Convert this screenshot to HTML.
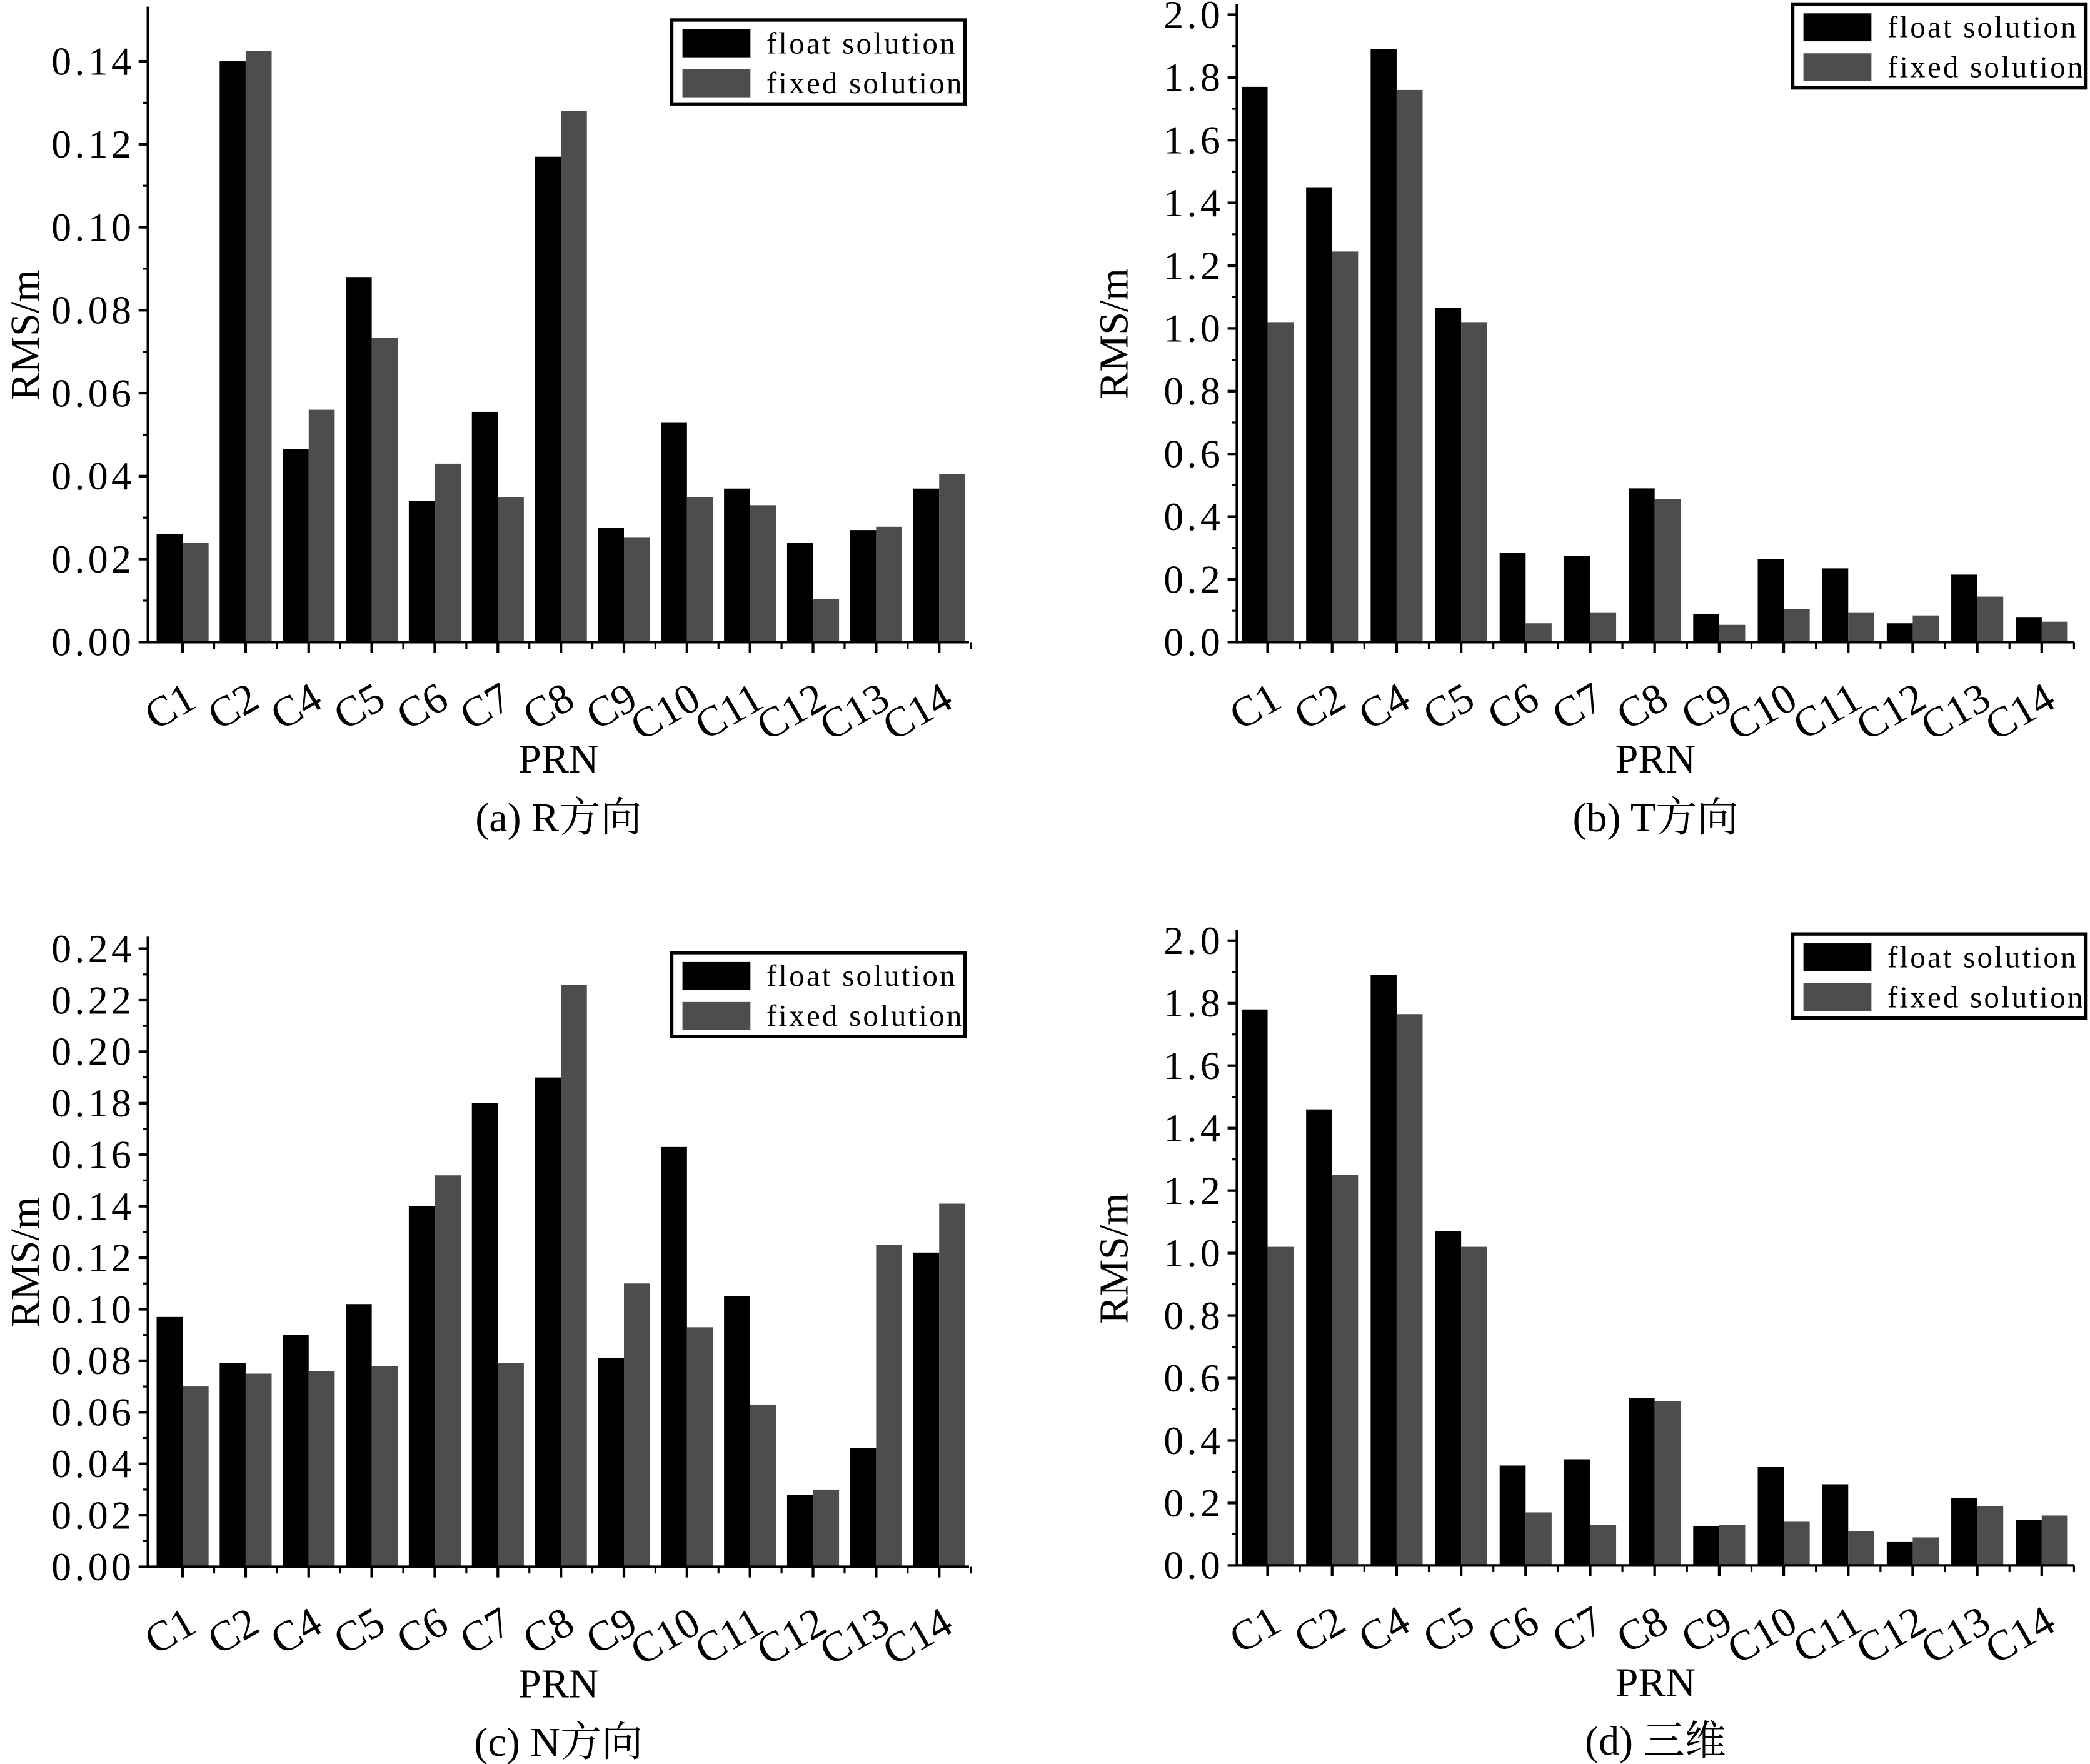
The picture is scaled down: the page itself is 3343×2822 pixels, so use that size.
<!DOCTYPE html>
<html><head><meta charset="utf-8"><style>
html,body{margin:0;padding:0;background:#fff;}
svg{display:block;font-family:"Liberation Serif","Noto Serif CJK SC",serif;}
</style></head><body>
<svg id="fig" width="3343" height="2822" viewBox="0 0 1568 1324" preserveAspectRatio="none" xmlns="http://www.w3.org/2000/svg"></svg>
<script>
const categories = ["C1","C2","C4","C5","C6","C7","C8","C9","C10","C11","C12","C13","C14"];
const floatR = [0.026,0.140,0.0465,0.088,0.034,0.0555,0.117,0.0275,0.053,0.037,0.024,0.027,0.037];
const fixedR = [0.024,0.1425,0.056,0.0733,0.043,0.035,0.128,0.0253,0.035,0.033,0.0103,0.0278,0.0405];
const floatT = [1.77,1.45,1.89,1.065,0.285,0.275,0.49,0.09,0.265,0.235,0.06,0.215,0.08];
const fixedT = [1.02,1.245,1.76,1.02,0.06,0.095,0.455,0.055,0.105,0.095,0.085,0.145,0.065];
const floatN = [0.097,0.079,0.090,0.102,0.140,0.180,0.190,0.081,0.163,0.105,0.028,0.046,0.122];
const fixedN = [0.070,0.075,0.076,0.078,0.152,0.079,0.226,0.110,0.093,0.063,0.030,0.125,0.141];
const float3D = [1.78,1.46,1.89,1.07,0.32,0.34,0.535,0.125,0.315,0.26,0.075,0.215,0.145];
const fixed3D = [1.02,1.25,1.765,1.02,0.17,0.13,0.525,0.13,0.14,0.11,0.09,0.19,0.16];
const ticksR = ["0.00","0.02","0.04","0.06","0.08","0.10","0.12","0.14"];
const ticksT = ["0.0","0.2","0.4","0.6","0.8","1.0","1.2","1.4","1.6","1.8","2.0"];
const ticksN = ["0.00","0.02","0.04","0.06","0.08","0.10","0.12","0.14","0.16","0.18","0.20","0.22","0.24"];
const ticks3D = ["0.0","0.2","0.4","0.6","0.8","1.0","1.2","1.4","1.6","1.8","2.0"];

const NS="http://www.w3.org/2000/svg";
const svg=document.getElementById('fig');
function mk(tag,attrs,parent){const e=document.createElementNS(NS,tag);for(const k in attrs)e.setAttribute(k,attrs[k]);(parent||svg).appendChild(e);return e;}

function panel(id,cfg,fl,fx,ticks){
  const g=mk('g',{});
  
  
  const {x0,x1,y0,yTop,axisTop,tickStep,step,c0,legX,legY,caption}=cfg;
  const vmax=parseFloat(ticks[ticks.length-1]);
  const yv=v=>y0-(v/vmax)*(y0-yTop);
  const xc=i=>c0+i*step;
  const bw=19.5;
  categories.forEach((c,i)=>{
    const a=mk('rect',{x:xc(i)-bw,y:yv(fl[i]),width:bw,height:y0-yv(fl[i]),fill:'#000'},g);
    
    
    const b=mk('rect',{x:xc(i),y:yv(fx[i]),width:bw,height:y0-yv(fx[i]),fill:'#4d4d4d'},g);
    
    
  });
  const ya=mk('line',{x1:x0,y1:axisTop,x2:x0,y2:y0+1,stroke:'#000','stroke-width':2},g);
  
  
  const xa=mk('line',{x1:x0-1,y1:y0,x2:x1,y2:y0,stroke:'#000','stroke-width':2},g);
  
  
  const fs=30;
  ticks.forEach((t,k)=>{
    const v=parseFloat(t);const y=yv(v);
    mk('line',{x1:x0-7,y1:y,x2:x0,y2:y,stroke:'#000','stroke-width':2},g);
    if(k<ticks.length-1){const ym=yv(v+tickStep/2);mk('line',{x1:x0-4,y1:ym,x2:x0,y2:ym,stroke:'#000','stroke-width':1.5},g);}
    const tl=mk('text',{x:x0-10,y:y+10,'font-size':fs,'text-anchor':'end','letter-spacing':'2.5'},g);
    tl.textContent=t;
    
    
  });
  categories.forEach((c,i)=>{
    const x=xc(i);
    mk('line',{x1:x,y1:y0,x2:x,y2:y0+8,stroke:'#000','stroke-width':2},g);
    mk('line',{x1:x+step/2,y1:y0,x2:x+step/2,y2:y0+5,stroke:'#000','stroke-width':1.5},g);
    const tx=mk('text',{x:x+12,y:y0+48,'font-size':32,'text-anchor':'end',transform:`rotate(-30 ${x+12} ${y0+48})`},g);
    tx.textContent=c;
    
    
  });
  const my=(axisTop+y0)/2+8;
  const yt=mk('text',{x:x0-82,y:my,'font-size':31,'text-anchor':'middle',transform:`rotate(-90 ${x0-82} ${my})`},g);
  yt.textContent='RMS/m';
  
  
  const mx=(x0+x1)/2;
  const xt=mk('text',{x:mx,y:y0+98,'font-size':31,'text-anchor':'middle'},g);
  xt.textContent='PRN';
  
  
  const cp=mk('text',{x:mx,y:y0+142,'font-size':31,'text-anchor':'middle'},g);
  cp.textContent=caption;
  
  
  const lg=mk('g',{},g);
  
  
  mk('rect',{x:legX,y:legY,width:220,height:63,fill:'#fff',stroke:'#000','stroke-width':2.5},lg);
  mk('rect',{x:legX+8,y:legY+7,width:51,height:21,fill:'#000'},lg);
  mk('rect',{x:legX+8,y:legY+37,width:51,height:21,fill:'#4d4d4d'},lg);
  const l1=mk('text',{x:legX+71,y:legY+25,'font-size':23,'letter-spacing':'1.5'},lg);l1.textContent='float solution';
  
  
  const l2=mk('text',{x:legX+71,y:legY+55,'font-size':23,'letter-spacing':'1.5'},lg);l2.textContent='fixed solution';
  
  
}
panel('panel-r',{x0:111,x1:727,y0:482,yTop:46,axisTop:5,tickStep:0.02,step:47.3,c0:137,legX:504,legY:15,caption:'(a) R方向'},floatR,fixedR,ticksR);
panel('panel-t',{x0:928,x1:1556,y0:482,yTop:11,axisTop:3,tickStep:0.2,step:48.4,c0:951,legX:1345,legY:3,caption:'(b) T方向'},floatT,fixedT,ticksT);
panel('panel-n',{x0:111,x1:727,y0:1176,yTop:712,axisTop:703,tickStep:0.02,step:47.3,c0:137,legX:504,legY:715,caption:'(c) N方向'},floatN,fixedN,ticksN);
panel('panel-3d',{x0:928,x1:1556,y0:1175,yTop:706,axisTop:698,tickStep:0.2,step:48.4,c0:951,legX:1345,legY:701,caption:'(d) 三维'},float3D,fixed3D,ticks3D);
</script>
</body></html>
